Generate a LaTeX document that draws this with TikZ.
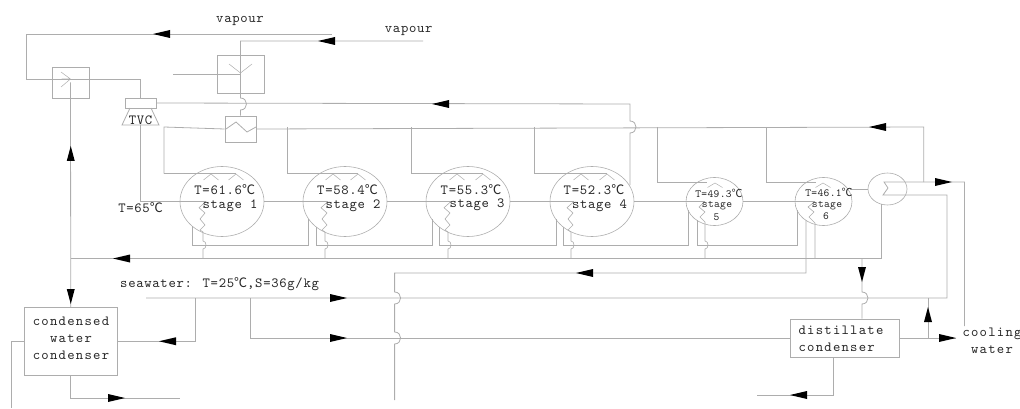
\documentclass[tikz,border=0pt]{standalone}
\usepackage{fontspec}
\usetikzlibrary{shapes.geometric}
\newfontfamily\cjk{Noto Sans CJK SC}
\newfontfamily\fontA[LetterSpace=5]{lmmono10-regular.otf}
\newfontfamily\fontB[LetterSpace=9]{lmmono10-regular.otf}
\newfontfamily\fontC[LetterSpace=3]{lmmono10-regular.otf}
\newcommand\dgc[1]{{\fontsize{#1}{#1}\cjk ℃}}
\newcommand\hopbig[2]{-- (#1,#2-6) .. controls (#1+8,#2-6) and (#1+8,#2+6) .. (#1,#2+6)}
\newcommand\hopsmall[2]{-- (#1,#2-4) .. controls (#1+4,#2-4) and (#1+4,#2+4) .. (#1,#2+4)}
\newcommand\arL[2]{\fill[black] (#1,#2) -- (#1+17,#2-4) -- (#1+17,#2+4) -- cycle;}
\newcommand\arR[2]{\fill[black] (#1,#2) -- (#1-17,#2-4) -- (#1-17,#2+4) -- cycle;}
\newcommand\arU[2]{\fill[black] (#1,#2) -- (#1-4,#2+15) -- (#1+4,#2+15) -- cycle;}
\newcommand\arD[2]{\fill[black] (#1,#2) -- (#1-4,#2-15) -- (#1+4,#2-15) -- cycle;}
\tikzset{
  pipe/.style={draw=black!32,line width=0.8pt},
  unit/.style={rectangle,draw=black!32,line width=0.8pt,inner sep=0pt},
  vessel/.style={ellipse,draw=black!32,line width=0.6pt,inner sep=0pt},
  txtA/.style={inner sep=0pt,text=black!85,font=\fontA\fontsize{14}{15}\selectfont},
  txtB/.style={inner sep=0pt,text=black!85,font=\fontB\fontsize{14}{17}\selectfont,align=center},
  txtC/.style={inner sep=0pt,text=black!85,font=\fontC\fontsize{11}{12}\selectfont},
}
\begin{document}
\begin{tikzpicture}[x=1pt,y=-1pt]
\useasboundingbox (0,0) rectangle (1020,409);
% units
\node[unit,minimum width=37pt,minimum height=31pt] (mixA) at (70.5,82.5) {};
\node[unit,minimum width=47pt,minimum height=38pt] (mixB) at (240.5,74) {};
\node[unit,minimum width=31pt,minimum height=26pt] (preheat) at (240.5,129) {};
\node[unit,minimum width=31pt,minimum height=10pt] (tvc) at (140.5,103) {};
\node[unit,minimum width=93.5pt,minimum height=67.5pt] (cwc) at (70.75,341.25) {};
\node[unit,minimum width=109pt,minimum height=38pt] (dc) at (844.5,338) {};
\node[vessel,minimum width=84pt,minimum height=70pt] (s1) at (222,201.5) {};
\node[vessel,minimum width=84pt,minimum height=70pt] (s2) at (345,201.5) {};
\node[vessel,minimum width=84pt,minimum height=70pt] (s3) at (468,201.5) {};
\node[vessel,minimum width=84pt,minimum height=70pt] (s4) at (592,201.5) {};
\node[vessel,minimum width=57pt,minimum height=48pt] (s5) at (714.5,201.5) {};
\node[vessel,minimum width=57pt,minimum height=48pt] (s6) at (823.5,201.5) {};
\node[vessel,minimum width=39pt,minimum height=32pt] (cond) at (887.5,189) {};
% free ends
\coordinate (vapA) at (332,34);
\coordinate (vapB) at (423,41);
\coordinate (mixBin) at (173,74);
\coordinate (seaIn) at (146,298);
\coordinate (cwcOut) at (180,398);
\coordinate (cwcDrain) at (11.7,408);
\coordinate (brineEnd) at (394.6,400);
\coordinate (dcOut) at (757,395);
\coordinate (coolOut) at (956,338);
\coordinate (coolIn) at (964.5,326);
% TVC body
\draw[pipe] (130,108) -- (122,125) -- (159,125) -- (151,108);
% vapour lines
\draw[pipe] (vapA) -- (26,34) -- (26,79) -- (140.5,79) -- (tvc.north);
\draw[pipe] (vapB) -- (240.5,41) \hopbig{240.5}{104} -- (preheat.north);
\draw[pipe] (mixBin) -- (240.5,74);
\draw[pipe,line width=0.5pt] (61,72) -- (70.5,79) (61.7,79) -- (70.5,79) (61,87) -- (70.5,79);
\draw[pipe,line width=0.5pt] (229,64) -- (240.5,73) (252,64) -- (240.5,73);
\draw[pipe] (226,129) -- (236,122) -- (247,132) -- (256,127);
% condensed line
\draw[pipe] (mixA.center) -- (cwc.north);
% motive steam return
\draw[pipe] (tvc.east) -- (630,104) \hopbig{630}{127} -- (630,185);
% feed header
\draw[pipe] (164,173.5) -- (164,127) -- (preheat.west);
\draw[pipe] (preheat.east) -- (923.7,127) -- (923.7,182);
\draw[pipe] (164,173.5) -- (236,173.5);
\draw[pipe] (287.5,127) -- (287.5,173.5) -- (358,173.5);
\draw[pipe] (411,127) -- (411,173.5) -- (483,173.5);
\draw[pipe] (534,127) -- (534,173.5) -- (607,173.5);
\draw[pipe] (657,127) -- (657,182) -- (707,182);
\draw[pipe] (766.5,127) -- (766.5,182) -- (816,182);
% spray arches
\foreach \a in {211,236,333,358,457,483,581,607}
  \draw[pipe,line width=0.5pt] (\a-7.5,180) -- (\a,174) -- (\a+7.5,180);
\foreach \a in {715,823}
  \draw[pipe,line width=0.5pt] (\a-7.5,187.5) -- (\a,183) -- (\a+7.5,187.5);
% steam between stages
\draw[pipe] (140.5,125) -- (140.5,201.5) -- (206,201.5);
\draw[pipe] (s1.east) -- (328,201.5);
\draw[pipe] (s2.east) -- (451,201.5);
\draw[pipe] (s3.east) -- (574,201.5);
\draw[pipe] (s4.east) -- (705,201.5);
\draw[pipe] (s5.east) -- (815,201.5);
% zigzags
\foreach \s in {206,328,451,574}
  \draw[pipe,line width=0.6pt] (\s,201.5) -- (\s-7,207.7) -- (\s-1,213) -- (\s-6,219) -- (\s-1,225) -- (\s-6,230) -- (\s-3,232) \hopsmall{\s-3}{245} -- (\s-3,258.5);
\draw[pipe,line width=0.6pt] (705,201.5) -- (699,207) -- (705,212) -- (700,217) -- (705,222) \hopsmall{705}{245} -- (705,258.5);
\draw[pipe,line width=0.6pt] (815,201.5) -- (808,207) -- (814,212) -- (809,217) -- (815,223) -- (815,258.5);
% brine loops
\draw[pipe] (192,226) -- (192,245) -- (308.7,245) -- (308.7,219);
\draw[pipe] (316,227) -- (316,245) -- (432,245) -- (432,219);
\draw[pipe] (439,227) -- (439,245) -- (556,245) -- (556,219);
\draw[pipe] (563,227) -- (563,245) -- (688,245) -- (688,210);
\draw[pipe] (697,220) -- (697,245) -- (797,245) -- (797,210);
% distillate collector
\draw[pipe] (cwc.north |- 0,258.5) -- (881,258.5) -- (881,204);
\draw[pipe] (862,258.5) \hopbig{862}{298} -- (dc.north -| 862,0);
% brine
\draw[pipe] (806,220) -- (806,273) -- (394.6,273) \hopbig{394.6}{298} \hopbig{394.6}{338} -- (brineEnd);
% seawater
\draw[pipe] (seaIn) -- (947,298) -- (947,195) -- (883,195) -- (888,188) -- (884,182) -- (964.5,182) -- (coolIn);
\draw[pipe] (195,298) -- (195,341.25) -- (cwc.east);
\draw[pipe] (250.6,298) -- (250.6,338) -- (dc.west);
\draw[pipe] (cwc.west) -- (cwcDrain |- cwc.west) -- (cwcDrain);
\draw[pipe] (cwc.south) -- (70.75,398) -- (cwcOut);
\draw[pipe] (dc.east) -- (coolOut);
\draw[pipe] (928,338) -- (928,298);
\draw[pipe] (833,357) -- (833,395) -- (dcOut);
\draw[pipe] (850,189) -- (cond.west);
% arrows
\arL{153}{34} \arL{318}{41} \arL{432}{104} \arL{869}{127} \arL{113}{258.5} \arL{576}{273} \arL{159}{341.25} \arL{790}{395}
\arR{952}{182} \arR{347}{298} \arR{347}{338} \arR{125}{398} \arR{956}{338}
\arU{70.75}{146} \arU{928}{307}
\arD{70.75}{304} \arD{862}{282}
% labels
\node[txtA] (lv1) at (240,21) {vapour};
\node[txtA] (lv2) at (408.7,31) {vapour};
\node[txtA] (ltvc) at (140.5,120) {TVC};
\node[txtA] (lt65) at (140.5,208) {T=65\dgc{13}};
\node[txtA] (t1) at (224.7,190) {T=61.6\dgc{13}};
\node[txtA] (t2) at (347.5,190) {T=58.4\dgc{13}};
\node[txtA] (t3) at (471,190) {T=55.3\dgc{13}};
\node[txtA] (t4) at (594,190) {T=52.3\dgc{13}};
\node[txtA] (n1) at (230,206) {stage 1};
\node[txtA] (n2) at (353,206) {stage 2};
\node[txtA] (n3) at (477,205) {stage 3};
\node[txtA] (n4) at (599.5,205.5) {stage 4};
\node[txtC] (t5) at (719,193.5) {T=49.3\dgc{11}};
\node[txtC] (n5) at (717,206) {stage};
\node[txtC] (m5) at (716.5,217) {5};
\node[txtC] (t6) at (829,192.5) {T=46.1\dgc{11}};
\node[txtC] (n6) at (827,205.5) {stage};
\node[txtC] (m6) at (826,216) {6};
\node[txtA,anchor=west] (lsea) at (120,284.5) {seawater: T=25\dgc{13},S=36g/kg};
\node[txtB] (lcwc) at (71,338) {condensed\\water\\condenser};
\node[txtB,align=left] (ldc) at (841,338.5) {distillate\\condenser};
\node[txtB] (lcool) at (992,340.5) {cooling\\water};
\end{tikzpicture}
\end{document}
